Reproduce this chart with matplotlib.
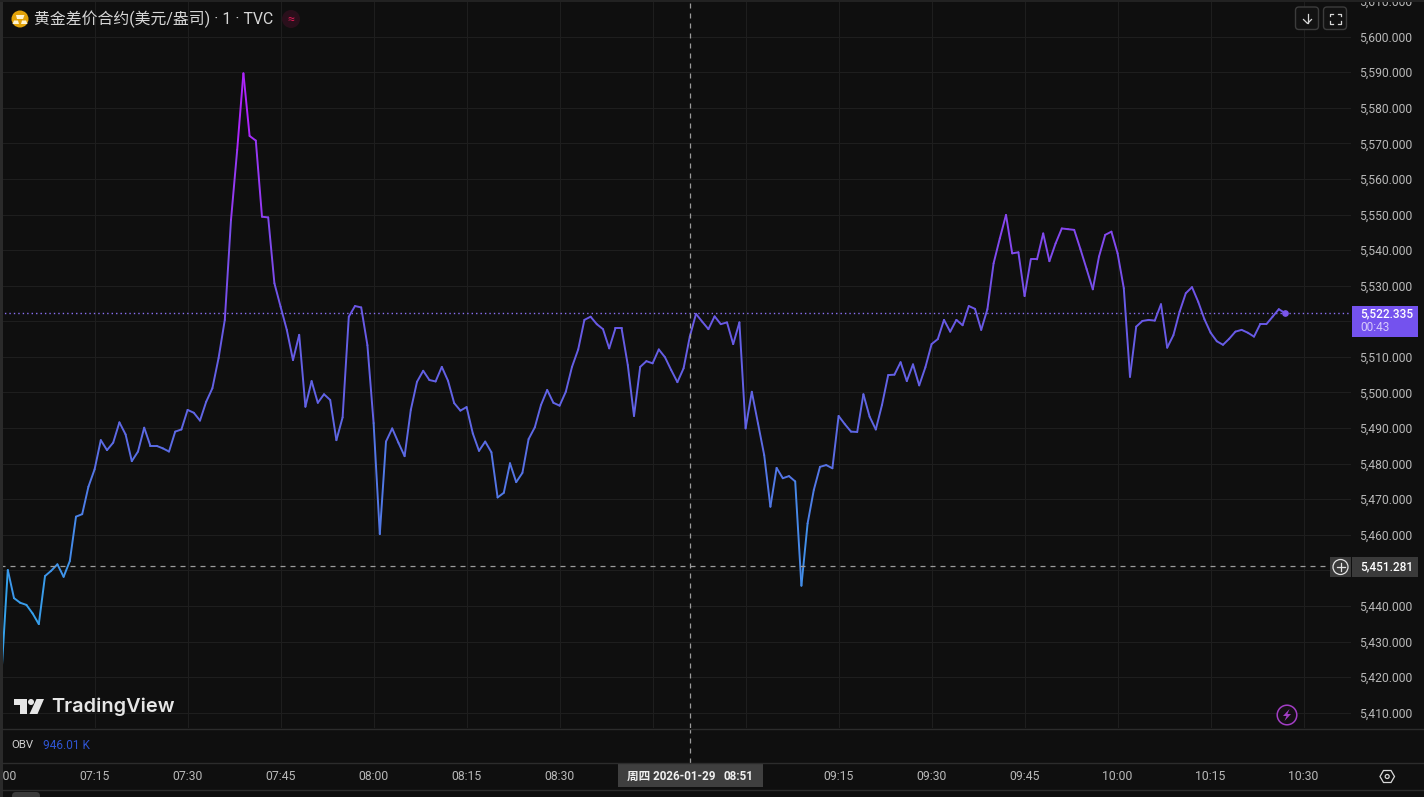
# gold spot 1 min line, dark TradingView style
import numpy as np
import matplotlib
matplotlib.use("Agg")
import matplotlib.pyplot as plt
from matplotlib.collections import LineCollection
from matplotlib.colors import LinearSegmentedColormap, Normalize
from matplotlib.patches import Circle, FancyBboxPatch, Polygon, Rectangle

plt.rcParams['font.family'] = ['Roboto', 'Noto Sans CJK SC', 'DejaVu Sans']

# one close per minute, starting at 07:00
prices = [
    5421.5, 5450.1, 5442.2, 5440.9, 5440.3, 5437.9, 5434.9, 5448.4, 5449.9, 5451.7,
    5448.2, 5452.6, 5465.1, 5465.8, 5473.5, 5478.4, 5486.6, 5483.8, 5485.9, 5491.6,
    5488.2, 5480.7, 5483.4, 5490.1, 5485.0, 5485.0, 5484.3, 5483.4, 5489.0, 5489.6,
    5495.1, 5494.3, 5492.1, 5497.4, 5501.2, 5509.7, 5520.4, 5548.5, 5568.2, 5589.7,
    5572.1, 5570.8, 5549.4, 5549.2, 5530.7, 5524.1, 5517.6, 5509.1, 5516.2, 5496.0,
    5503.2, 5497.1, 5499.5, 5497.9, 5486.6, 5493.0, 5521.3, 5524.3, 5523.9, 5513.3,
    5491.4, 5460.2, 5486.2, 5489.9, 5485.9, 5482.1, 5495.1, 5503.0, 5506.1, 5503.5,
    5503.1, 5507.2, 5503.3, 5497.0, 5494.9, 5495.9, 5488.5, 5483.6, 5486.2, 5483.2,
    5470.5, 5471.8, 5480.1, 5474.8, 5477.4, 5486.9, 5490.2, 5496.5, 5500.7, 5497.1,
    5496.3, 5500.2, 5507.2, 5512.1, 5520.4, 5521.3, 5519.2, 5517.8, 5512.4, 5518.0,
    5518.0, 5507.7, 5493.4, 5507.2, 5508.8, 5508.2, 5512.1, 5509.9, 5506.3, 5502.9,
    5506.8, 5515.7, 5522.1, 5519.9, 5517.8, 5521.4, 5519.2, 5519.7, 5513.6, 5519.7,
    5489.9, 5500.2, 5491.3, 5482.4, 5467.9, 5478.8, 5475.9, 5476.5, 5475.0, 5445.7,
    5463.2, 5472.6, 5479.1, 5479.6, 5478.7, 5493.4, 5491.1, 5489.0, 5488.9, 5499.5,
    5493.2, 5489.6, 5496.5, 5504.9, 5505.0, 5508.5, 5503.2, 5507.9, 5502.0, 5507.1,
    5513.6, 5515.0, 5520.4, 5517.1, 5520.4, 5518.9, 5524.3, 5523.5, 5517.6, 5523.4,
    5536.3, 5543.3, 5549.9, 5539.1, 5539.4, 5527.1, 5537.4, 5537.4, 5544.7, 5536.9,
    5541.9, 5546.1, 5545.9, 5545.7, 5540.3, 5534.7, 5529.0, 5538.2, 5544.3, 5545.2,
    5539.1, 5529.3, 5504.4, 5518.5, 5520.1, 5520.4, 5520.2, 5524.8, 5512.6, 5516.1,
    5522.7, 5527.9, 5529.6, 5525.5, 5520.6, 5516.8, 5514.4, 5513.4, 5515.1, 5517.1,
    5517.6, 5516.8, 5515.7, 5519.2, 5519.2, 5521.3, 5523.4, 5522.335,
]
time_ticks = [0, 15, 30, 45, 60, 75, 90, 105, 120, 135, 150, 165, 180, 195, 210]
# 08:45 and 09:00 sit behind the crosshair time badge
time_labels = ['07:00', '07:15', '07:30', '07:45', '08:00', '08:15', '08:30', '',
               '', '09:15', '09:30', '09:45', '10:00', '10:15', '10:30']
price_ticks = list(range(5410, 5611, 10))
hidden_prices = [5450, 5520]  # behind the badges
last_price = 5522.335
cross_price = 5451.281
cross_minute = 111

BG = '#0f0f0f'
GRID = '#1e1e1e'
EDGE = '#2c2c2c'
TXT = '#b8b8b8'
W, H = 1424, 797

fig = plt.figure(figsize=(W / 100, H / 100), dpi=100, facecolor=BG)

# panes placed in pixels
ax = fig.add_axes([0, (H - 728) / H, 1351 / W, 728 / H], facecolor=BG)
obv = fig.add_axes([0, (H - 763) / H, 1351 / W, 34 / H], facecolor=BG)

xlim = (-1.6 / 6.2, (1351 - 1.6) / 6.2)
minutes = np.arange(len(prices))
ax.set_xlim(*xlim)
ax.set_ylim(5405.7, 5610.31)
obv.set_xlim(*xlim)
obv.set_ylim(0, 1)

for s in list(ax.spines.values()) + list(obv.spines.values()):
    s.set_visible(False)

ax.set_yticks(price_ticks)
ax.set_yticklabels(['' if p in hidden_prices else f'{p:,.3f}' for p in price_ticks])
ax.yaxis.tick_right()
ax.tick_params(axis='y', length=0, pad=5.6, labelsize=8.7, labelcolor=TXT)
ax.set_xticks(time_ticks)
ax.tick_params(axis='x', length=0, labelbottom=False)
ax.grid(True, color=GRID, lw=0.8)
ax.set_axisbelow(True)

obv.set_yticks([])
obv.set_xticks(time_ticks)
obv.set_xticklabels(time_labels)
obv.tick_params(axis='x', length=0, pad=5.0, labelsize=8.8, labelcolor=TXT)

# line coloured by price level
cmap = LinearSegmentedColormap.from_list('gold', [
    (0.0, '#2bb0ea'), (0.18, '#3f93ea'), (0.40, '#5d68e4'), (0.60, '#6a58e6'),
    (0.76, '#8a43f0'), (1.0, '#b81cff')])
pts = np.column_stack([minutes, prices])
segs = np.stack([pts[:-1], pts[1:]], axis=1)
mids = (np.array(prices[:-1]) + np.array(prices[1:])) / 2
lc = LineCollection(segs, cmap=cmap, norm=Normalize(5420, 5590), linewidths=1.4,
                    capstyle='round', joinstyle='round', zorder=3)
lc.set_array(mids)
ax.add_collection(lc)
ax.plot(minutes[-1], prices[-1], 'o', ms=3.8, color='#7b55ec', zorder=4)

ax.axhline(last_price, color='#8a70f5', lw=1.0, ls=(0, (1, 2.2)), zorder=2)
ax.axhline(cross_price, color='#9c9c9c', lw=0.9, ls=(0, (4, 4)), zorder=5)
ax.axvline(cross_minute, color='#9c9c9c', lw=0.9, ls=(0, (4, 4)), zorder=5)
obv.axvline(cross_minute, color='#9c9c9c', lw=0.9, ls=(0, (4, 4)))

# everything that is chrome goes on an overlay in pixel coords
ov = fig.add_axes([0, 0, 1, 1], zorder=10)
ov.set_xlim(0, W)
ov.set_ylim(H, 0)
ov.axis('off')
ov.patch.set_alpha(0)

ov.add_patch(Rectangle((0, 0), 2.5, H, color='#2a2a2a', lw=0))
ov.add_patch(Rectangle((0, 0), W, 2, color='#222222', lw=0))
for y in [728.5, 763, 790]:
    ov.plot([2, W], [y, y], color=EDGE, lw=1)
ov.add_patch(FancyBboxPatch((12, 792), 28, 8, boxstyle='round,pad=0,rounding_size=4',
                            color='#3a3a3a', lw=0))

# title row
ov.add_patch(Circle((20, 19), 8.5, color='#e2a208', lw=0))
ov.add_patch(Polygon([[17, 19], [23, 19], [24.5, 15], [16, 15]], color='#fff3d0', lw=0))
ov.add_patch(Polygon([[12.5, 24], [19, 24], [18, 20.5], [14, 20.5]], color='#fff3d0', lw=0))
ov.add_patch(Polygon([[21, 24], [27.5, 24], [26, 20.5], [22, 20.5]], color='#fff3d0', lw=0))
ov.text(34, 19.5, '黄金差价合约(美元/盎司) · 1 · TVC', color='#d6d6d6', fontsize=11.4,
        va='center', ha='left')
ov.add_patch(Circle((291, 19), 9, color='#2a0f1b', lw=0))
ov.text(291, 19, '≈', color='#d41a52', fontsize=9, ha='center', va='center')

# top right buttons
for bx in [1295.5, 1323.5]:
    ov.add_patch(FancyBboxPatch((bx, 7), 23, 22.5, boxstyle='round,pad=0,rounding_size=3.5',
                                fc='#121212', ec='#3c3c3c', lw=1))
ov.plot([1307.5, 1307.5], [14, 23], color='#d8d8d8', lw=0.9)
ov.plot([1303.5, 1307.5, 1311.5], [19.5, 23.5, 19.5], color='#d8d8d8', lw=0.9)
for xs, ys in [([1330, 1330, 1333], [16, 13.5, 13.5]), ([1338, 1341, 1341], [13.5, 13.5, 16]),
               ([1330, 1330, 1333], [21, 23.5, 23.5]), ([1338, 1341, 1341], [23.5, 23.5, 21])]:
    ov.plot(xs, ys, color='#d8d8d8', lw=0.9)

# price badges
ov.add_patch(Rectangle((1352, 306), 66, 31, color='#7452ee', lw=0))
ov.text(1360, 314, f'{last_price:,.3f}', color='#ffffff', fontsize=8.6, va='center', weight='medium')
ov.text(1360, 327.5, '00:43', color='#d6c9fb', fontsize=8.6, va='center')
ov.add_patch(Rectangle((1352, 557), 66, 20, color='#3a3a3a', lw=0))
ov.text(1360, 567, f'{cross_price:,.3f}', color='#ffffff', fontsize=8.6, va='center', weight='medium')
ov.add_patch(Rectangle((1330, 557), 21, 20, color='#3a3a3a', lw=0))
ov.add_patch(Circle((1340.5, 567), 7.5, fc='none', ec='#e4e4e4', lw=0.9))
ov.plot([1336.5, 1344.5], [567, 567], color='#e4e4e4', lw=0.9)
ov.plot([1340.5, 1340.5], [563, 571], color='#e4e4e4', lw=0.9)

# crosshair time badge
ov.add_patch(Rectangle((618, 763), 145, 24, color='#3f3f3f', lw=0))
ov.text(627, 776, '周四 2026-01-29', color='#f0f0f0', fontsize=8.4, va='center', weight='bold')
ov.text(723, 776, '08:51', color='#f0f0f0', fontsize=8.4, va='center', weight='bold')

# OBV legend
ov.text(11, 745.5, 'OBV', color='#d0d0d0', fontsize=8.2, va='center')
ov.text(43, 745.5, '946.01 K', color='#2f55d4', fontsize=8.6, va='center')

# TradingView mark
ov.add_patch(Polygon([[14, 699], [27, 699], [27, 714], [19.5, 714], [19.5, 704.5], [14, 704.5]],
                     color='#e6e6e6', lw=0))
ov.add_patch(Circle((31, 702), 3, color='#e6e6e6', lw=0))
ov.add_patch(Polygon([[36.5, 699], [44, 699], [37.5, 714], [29.5, 714]], color='#e6e6e6', lw=0))
ov.text(51, 707, 'TradingView', color='#e6e6e6', fontsize=14.4, va='center',
        family=['Inter', 'DejaVu Sans'], weight='semibold')

# lightning button and settings hexagon
ov.add_patch(Circle((1287, 715), 9.8, fc='#141014', ec='#a23ec4', lw=1.1))
ov.add_patch(Polygon([[1289.5, 709], [1283, 716], [1286.5, 716], [1284.5, 721],
                      [1291, 714], [1287.5, 714]], color='#a23ec4', lw=0))
ov.add_patch(Polygon([[1380, 776.5], [1383.5, 770.5], [1391, 770.5], [1394.5, 776.5],
                      [1391, 782.5], [1383.5, 782.5]], fc='none', ec='#d8d8d8', lw=0.9))
ov.add_patch(Circle((1387.2, 776.5), 2, fc='none', ec='#d8d8d8', lw=0.9))

fig.savefig('out.png', dpi=100, facecolor=BG)
